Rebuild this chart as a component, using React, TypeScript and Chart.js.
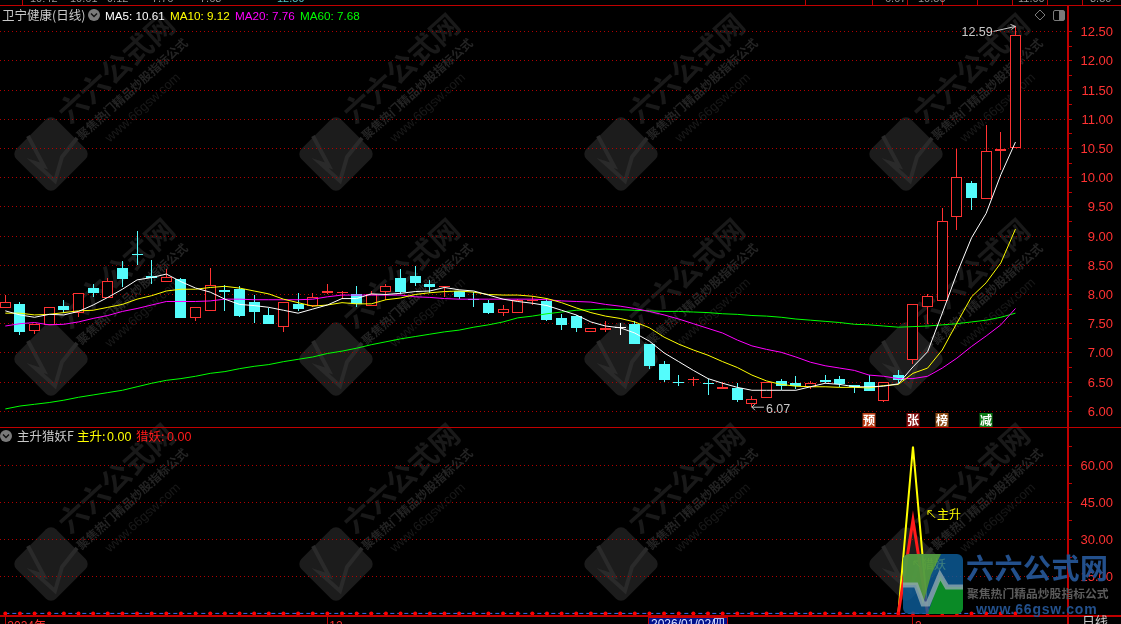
import React, { useEffect, useRef } from "react";
import { Chart, registerables } from "chart.js";

Chart.register(...registerables);

const opens = [7.77,7.84,7.38,7.47,7.80,7.68,8.11,7.94,8.45,8.69,8.31,8.21,8.27,7.59,7.72,8.08,8.09,7.87,7.65,7.44,7.84,7.80,8.03,8.03,8.01,7.81,8.05,8.28,8.32,8.18,8.12,8.06,7.93,7.85,7.68,7.68,7.88,7.89,7.59,7.63,7.36,7.40,7.44,7.49,7.15,6.81,6.51,6.53,6.49,6.38,6.40,6.13,6.23,6.52,6.48,6.41,6.54,6.55,6.45,6.50,6.18,6.62,6.88,7.79,7.89,9.33,9.91,9.63,10.45,10.50];
const closes = [7.87,7.35,7.49,7.78,7.73,8.02,8.03,8.23,8.27,8.67,8.29,8.30,7.60,7.78,8.16,8.05,7.63,7.70,7.50,7.87,7.75,7.95,8.06,8.05,7.83,8.00,8.14,8.04,8.20,8.13,8.14,7.96,7.91,7.68,7.76,7.91,7.91,7.56,7.48,7.43,7.43,7.43,7.44,7.15,6.78,6.54,6.49,6.56,6.47,6.42,6.19,6.21,6.51,6.43,6.43,6.48,6.50,6.46,6.42,6.35,6.51,6.54,7.83,7.97,9.25,10.01,9.65,10.46,10.49,12.44];
const highs = [7.99,7.87,7.49,7.78,7.91,8.02,8.18,8.28,8.57,9.09,8.59,8.44,8.28,7.78,8.45,8.16,8.15,7.99,7.77,7.87,8.02,8.02,8.18,8.06,8.15,8.06,8.18,8.44,8.49,8.25,8.14,8.06,8.05,7.91,7.82,7.93,7.97,7.92,7.66,7.65,7.43,7.55,7.51,7.55,7.15,6.86,6.62,6.58,6.56,6.51,6.48,6.26,6.51,6.55,6.60,6.52,6.62,6.60,6.45,6.62,6.51,6.71,7.83,8.01,9.48,10.49,9.94,10.90,10.78,12.59];
const lows = [7.77,7.31,7.32,7.47,7.68,7.62,7.96,7.94,8.12,8.51,8.18,8.21,7.59,7.55,7.72,7.72,7.61,7.52,7.50,7.36,7.72,7.79,8.01,7.92,7.79,7.81,7.91,8.00,8.15,8.02,7.95,7.92,7.79,7.67,7.63,7.68,7.82,7.55,7.39,7.36,7.36,7.36,7.31,7.15,6.72,6.51,6.43,6.43,6.28,6.38,6.16,6.07,6.23,6.36,6.38,6.38,6.49,6.41,6.32,6.35,6.16,6.49,6.81,7.49,7.88,9.10,9.45,9.63,10.14,10.50];

const ma5 = [7.72,7.65,7.61,7.66,7.65,7.71,7.82,7.95,8.09,8.25,8.29,8.35,8.22,8.11,8.04,7.92,7.83,7.81,7.78,7.73,7.68,7.75,7.82,7.93,7.93,8.01,8.00,8.02,8.05,8.06,8.12,8.08,8.06,7.99,7.92,7.88,7.85,7.81,7.73,7.65,7.53,7.46,7.43,7.34,7.20,7.00,6.85,6.70,6.56,6.48,6.41,6.36,6.36,6.36,6.36,6.42,6.48,6.46,6.42,6.42,6.43,6.47,6.76,7.02,7.68,8.36,8.97,9.39,10.05,10.61];
const ma10 = [7.68,7.68,7.65,7.66,7.69,7.72,7.73,7.78,7.83,7.92,7.98,8.06,8.09,8.09,8.12,8.14,8.11,8.06,8.01,7.92,7.86,7.80,7.82,7.86,7.84,7.84,7.91,7.94,8.00,8.03,8.05,8.06,8.04,8.00,7.99,7.99,7.97,7.93,7.86,7.77,7.69,7.63,7.59,7.53,7.43,7.27,7.15,7.05,6.96,6.85,6.75,6.62,6.52,6.46,6.43,6.42,6.42,6.41,6.41,6.40,6.44,6.46,6.65,6.74,7.05,7.51,7.96,8.20,8.54,9.12];
const ma20 = [7.46,7.50,7.52,7.48,7.49,7.53,7.59,7.64,7.71,7.76,7.82,7.88,7.88,7.88,7.89,7.92,7.92,7.91,7.91,7.91,7.91,7.92,7.96,7.99,7.99,7.99,7.99,7.99,7.96,7.95,7.93,7.92,7.92,7.92,7.92,7.92,7.92,7.91,7.89,7.88,7.87,7.83,7.80,7.76,7.71,7.65,7.58,7.50,7.42,7.34,7.22,7.12,7.06,7.01,6.93,6.84,6.78,6.74,6.70,6.62,6.60,6.56,6.56,6.60,6.74,6.91,7.11,7.29,7.48,7.76];
const ma60 = [6.04,6.09,6.12,6.15,6.19,6.24,6.28,6.32,6.36,6.42,6.48,6.53,6.56,6.60,6.65,6.68,6.73,6.77,6.80,6.85,6.89,6.93,6.99,7.03,7.08,7.14,7.19,7.24,7.28,7.32,7.36,7.39,7.44,7.48,7.53,7.60,7.63,7.67,7.70,7.73,7.74,7.75,7.74,7.73,7.72,7.71,7.71,7.70,7.69,7.67,7.66,7.64,7.63,7.61,7.58,7.56,7.54,7.52,7.49,7.48,7.46,7.44,7.45,7.46,7.48,7.50,7.53,7.56,7.61,7.68];

const signalSessions = [61, 62, 63];
const zhuSheng = [0, 67.6, 0];
const lieYao = [0, 37.9, 0];
const baseline = opens.map(() => 0);

const priceTicks = [6,6.25,6.5,6.75,7,7.25,7.5,7.75,8,8.25,8.5,8.75,9,9.25,9.5,9.75,10,10.25,10.5,10.75,11,11.25,11.5,11.75,12,12.25,12.5];
const indicatorTicks = [15,22.5,30,37.5,45,52.5,60,67.5];
const xTickSessions = [0, 22, 62];
const xTickLabels = ["2024年", "12", "2"];
const badgeSessions = [59, 62, 64, 67];
const badgeTexts = ["预", "张", "榜", "减"];

const RED = "#ff3232";
const CYAN = "#54fcfc";
const GRID = "#b00000";
const LINE = "#c00000";
const NUM = '"Liberation Sans"';
const CJK = '"Noto Sans CJK SC"';

const pts = (arr: number[]) => arr.map((y, x) => ({ x, y }));
const candleColor = (i: number) =>
  closes[i] > opens[i] ? RED : closes[i] < opens[i] ? CYAN : "#ffffff";

function tile(ctx: CanvasRenderingContext2D, cx: number, cy: number) {
  ctx.save();
  ctx.translate(cx, cy);
  ctx.save();
  ctx.rotate(Math.PI / 4);
  ctx.fillStyle = "#1c1c1c";
  ctx.beginPath();
  ctx.roundRect(-28, -28, 56, 56, 7);
  ctx.fill();
  ctx.restore();
  ctx.strokeStyle = "#2a2a2a";
  ctx.lineWidth = 4;
  ctx.lineJoin = "miter";
  ctx.beginPath();
  ([[-23,-18],[-7,12],[-16,9],[4,27],[11,3],[26,-16]] as number[][]).forEach(([a, b], i) =>
    i ? ctx.lineTo(a, b) : ctx.moveTo(a, b));
  ctx.stroke();

  const ang = (-42 * Math.PI) / 180;
  const put = (t: string, x: number, y: number, font: string, color: string) => {
    ctx.save();
    ctx.translate(x, y);
    ctx.rotate(ang);
    ctx.font = font;
    ctx.fillStyle = color;
    ctx.textAlign = "center";
    ctx.textBaseline = "middle";
    ctx.fillText(t, 0, 0);
    ctx.restore();
  };
  put("六六公式网", 65, -86, `bold 29px ${CJK}`, "#191919");
  put("聚焦热门精品炒股指标公式", 81, -65, `bold 12px ${CJK}`, "#242424");
  put("www.66gsw.com", 92, -46, `13px ${NUM}`, "#191919");
  ctx.restore();
}

function chromeIcon(ctx: CanvasRenderingContext2D, x: number, y: number) {
  ctx.fillStyle = "#7a7a7a";
  ctx.beginPath();
  ctx.arc(x, y, 6, 0, Math.PI * 2);
  ctx.fill();
  ctx.strokeStyle = "#111";
  ctx.lineWidth = 1.4;
  ctx.beginPath();
  ctx.moveTo(x - 3, y - 1.5);
  ctx.lineTo(x, y + 1.5);
  ctx.lineTo(x + 3, y - 1.5);
  ctx.stroke();
}

function text(ctx: CanvasRenderingContext2D, t: string, x: number, y: number, color: string, font: string) {
  ctx.font = font;
  ctx.fillStyle = color;
  ctx.textAlign = "left";
  ctx.textBaseline = "alphabetic";
  ctx.fillText(t, x, y + 4.5);
}

function logo(ctx: CanvasRenderingContext2D) {
  ctx.save();
  ctx.globalAlpha = 0.8;
  ctx.beginPath();
  ctx.roundRect(903, 554, 60, 60, 6);
  ctx.clip();
  ctx.fillStyle = "#0c5f9e";
  ctx.fillRect(903, 554, 60, 60);
  ctx.fillStyle = "#5fa52e";
  ctx.beginPath();
  ctx.moveTo(903, 554); ctx.lineTo(941, 554); ctx.lineTo(931, 575); ctx.lineTo(923, 604); ctx.lineTo(916, 585); ctx.lineTo(903, 585);
  ctx.closePath(); ctx.fill();
  ctx.fillStyle = "#0a9a10";
  ctx.beginPath();
  ctx.moveTo(963, 587); ctx.lineTo(947, 587); ctx.lineTo(940, 575); ctx.lineTo(928, 614); ctx.lineTo(963, 614);
  ctx.closePath(); ctx.fill();
  ctx.strokeStyle = "#90a8ae";
  ctx.lineWidth = 5;
  ctx.beginPath();
  ctx.moveTo(903, 585); ctx.lineTo(916, 585); ctx.lineTo(923, 604); ctx.lineTo(928, 604); ctx.lineTo(940, 575); ctx.lineTo(947, 587); ctx.lineTo(963, 587);
  ctx.stroke();
  ctx.restore();

  ctx.save();
  ctx.textAlign = "left";
  ctx.textBaseline = "middle";
  ctx.font = `bold 28px ${CJK}`;
  ctx.fillStyle = "#23508c";
  (ctx as any).letterSpacing = "0.5px";
  ctx.fillText("六六公式网", 966, 568);
  ctx.font = `bold 11.8px ${CJK}`;
  ctx.fillStyle = "#5c5c5c";
  (ctx as any).letterSpacing = "0px";
  ctx.fillText("聚焦热门精品炒股指标公式", 967, 594);
  ctx.font = `bold 14px ${NUM}`;
  ctx.fillStyle = "#23508c";
  (ctx as any).letterSpacing = "0.8px";
  ctx.fillText("www.66gsw.com", 976, 610);
  ctx.restore();
}

const snapBars = {
  id: "snapBars",
  beforeDatasetsDraw(chart: any) {
    chart.getSortedVisibleDatasetMetas().forEach((meta: any) => {
      if (meta.type !== "bar") return;
      meta.data.forEach((el: any) => {
        el.x = Math.round(el.x - 0.5) + 0.5;
        const a = Math.round(el.y);
        let b = Math.round(el.base);
        if (a === b) b = a + 1;
        el.y = a;
        el.base = b;
        el.height = b - a;
      });
    });
  },
};

const backdrop = {
  id: "backdrop",
  beforeDraw(chart: any) {
    const { ctx, width, height } = chart;
    ctx.save();
    ctx.fillStyle = "#000";
    ctx.fillRect(0, 0, width, height);
    ctx.beginPath();
    ctx.rect(0, 0, 1068, height);
    ctx.clip();
    [154, 359, 564].forEach((cy) => [51, 336, 621, 906].forEach((cx) => tile(ctx, cx, cy)));
    ctx.restore();
  },
};

const chrome = {
  id: "chrome",
  afterDraw(chart: any) {
    const { ctx, width, height } = chart;
    const xs = chart.scales.x;
    const yp = chart.scales.y;
    const yi = chart.scales.y2;
    const px = (i: number) => xs.getPixelForValue(i);
    ctx.save();

    // frame
    ctx.fillStyle = LINE;
    ctx.fillRect(0, 5, width, 1);
    ctx.fillRect(0, 427, width, 1);
    ctx.fillRect(0, 615, width, 2);
    ctx.fillRect(1067, 5, 2, height - 5);
    [22, 805, 872, 907, 942, 977, 1012, 1047, 1082].forEach((x) => ctx.fillRect(x, 0, 1, 5));
    ["10:42", "10.61", "9.12", "7.76", "7.68", "12.59", "6.07", "10.50", "11.00", "8.50"].forEach((t, i) => {
      ctx.font = `11px ${NUM}`;
      ctx.fillStyle = i === 5 ? "#54c8c8" : "#9a9a9a";
      ctx.textAlign = "left";
      ctx.textBaseline = "alphabetic";
      ctx.fillText(t, [30, 70, 107, 152, 200, 277, 885, 918, 1018, 1090][i], 2);
    });

    // headers
    text(ctx, "卫宁健康(日线)", 2, 15, "#c8c8c8", `12.5px ${CJK}`);
    chromeIcon(ctx, 94, 15);
    const maFont = `11.7px ${NUM}`;
    text(ctx, "MA5: 10.61", 105, 15, "#ffffff", maFont);
    text(ctx, "MA10: 9.12", 170, 15, "#ffff00", maFont);
    text(ctx, "MA20: 7.76", 235, 15, "#ff00ff", maFont);
    text(ctx, "MA60: 7.68", 300, 15, "#00ff00", maFont);
    chromeIcon(ctx, 6, 436);
    text(ctx, "主升猎妖F", 17, 436, "#c8c8c8", `12.5px ${CJK}`);
    text(ctx, "主升:", 77, 436, "#ffff00", `12.5px ${CJK}`);
    text(ctx, "0.00", 107, 436, "#ffff00", `12.5px ${NUM}`);
    text(ctx, "猎妖:", 136, 436, "#ff1a1a", `12.5px ${CJK}`);
    text(ctx, "0.00", 167, 436, "#ff1a1a", `12.5px ${NUM}`);

    // top-right buttons
    ctx.strokeStyle = "#7a7a7a";
    ctx.lineWidth = 1;
    ctx.beginPath();
    ctx.moveTo(1040, 10); ctx.lineTo(1045, 15); ctx.lineTo(1040, 20); ctx.lineTo(1035, 15); ctx.closePath();
    ctx.stroke();
    ctx.beginPath();
    ctx.roundRect(1053.5, 10.5, 11, 10, 1.5);
    ctx.stroke();
    ctx.fillStyle = "#7a7a7a";
    ctx.fillRect(1059, 11, 5, 9);

    // extreme value notes
    const hiY = yp.getPixelForValue(12.59);
    const hiX = px(69);
    text(ctx, "12.59", hiX - 54, hiY + 5, "#c8c8c8", `12.5px ${NUM}`);
    ctx.strokeStyle = "#c8c8c8";
    ctx.beginPath();
    ctx.moveTo(hiX - 22, hiY + 5); ctx.lineTo(hiX, hiY); ctx.lineTo(hiX - 5, hiY - 2);
    ctx.moveTo(hiX, hiY); ctx.lineTo(hiX - 4, hiY + 3);
    ctx.stroke();
    const loY = yp.getPixelForValue(6.07);
    const loX = px(51);
    text(ctx, "6.07", loX + 14, loY + 1, "#c8c8c8", `12.5px ${NUM}`);
    ctx.beginPath();
    ctx.moveTo(loX + 12, loY); ctx.lineTo(loX, loY); ctx.lineTo(loX + 3, loY - 3);
    ctx.moveTo(loX, loY); ctx.lineTo(loX + 3, loY + 3);
    ctx.stroke();

    // signal badges
    const badgeColors = ["#b83c14", "#7e0a0a", "#8c4a14", "#0a7a14"];
    badgeSessions.forEach((s, i) => {
      const x = Math.round(px(s)) - 6.5;
      ctx.fillStyle = badgeColors[i];
      ctx.fillRect(x, 413, 13, 14);
      ctx.font = `bold 12px ${CJK}`;
      ctx.fillStyle = "#ffffff";
      ctx.textAlign = "center";
      ctx.textBaseline = "middle";
      ctx.fillText(badgeTexts[i], x + 6.5, 420);
    });

    // indicator notes
    const zx = px(62);
    const noteY = yi.getPixelForValue(40);
    ctx.strokeStyle = "#ffff00";
    ctx.beginPath();
    ctx.moveTo(zx + 22, noteY + 3); ctx.lineTo(zx + 15, noteY - 4); ctx.moveTo(zx + 15, noteY - 4); ctx.lineTo(zx + 19, noteY - 4); ctx.moveTo(zx + 15, noteY - 4); ctx.lineTo(zx + 15, noteY);
    ctx.stroke();
    text(ctx, "主升", zx + 24, noteY, "#ffff00", `12px ${CJK}`);
    const noteY2 = yi.getPixelForValue(20);
    ctx.beginPath();
    ctx.moveTo(zx + 7, noteY2 + 3); ctx.lineTo(zx + 1, noteY2 - 3); ctx.moveTo(zx + 1, noteY2 - 3); ctx.lineTo(zx + 5, noteY2 - 3); ctx.moveTo(zx + 1, noteY2 - 3); ctx.lineTo(zx + 1, noteY2 + 1);
    ctx.stroke();
    text(ctx, "猎妖", zx + 9, noteY2, "#ffff00", `12px ${CJK}`);

    // cursor date box
    ctx.fillStyle = "#00108c";
    ctx.fillRect(648, 617, 80, 7);
    ctx.strokeStyle = LINE;
    ctx.strokeRect(648.5, 617.5, 79, 8);
    ctx.font = `12px ${NUM}`;
    ctx.fillStyle = "#d8e0ff";
    ctx.textAlign = "left";
    ctx.textBaseline = "top";
    ctx.fillText("2026/01/02/", 651, 619);
    ctx.font = `12px ${CJK}`;
    ctx.fillText("四", 713, 617);

    ctx.font = `13px ${CJK}`;
    ctx.fillStyle = "#c8c8c8";
    ctx.fillText("日线", 1082, 615);

    logo(ctx);
    ctx.restore();
  },
};

const axisLabelFont = { family: NUM, size: 13 };
const fitY = (s: any) => { s.width = 45; s.paddingTop = 0; s.paddingBottom = 0; };

export default function App() {
  const ref = useRef<HTMLCanvasElement | null>(null);
  useEffect(() => {
    const sessions = opens.map((_, i) => i);
    const chart = new Chart(ref.current as HTMLCanvasElement, {
      type: "bar",
      data: {
        datasets: [
          { type: "line", label: "MA5", yAxisID: "y", data: pts(ma5), borderColor: "#ffffff", borderWidth: 1, pointRadius: 0, tension: 0, order: 1 },
          { type: "line", label: "MA10", yAxisID: "y", data: pts(ma10), borderColor: "#ffff00", borderWidth: 1, pointRadius: 0, tension: 0, order: 2 },
          { type: "line", label: "MA20", yAxisID: "y", data: pts(ma20), borderColor: "#ff00ff", borderWidth: 1, pointRadius: 0, tension: 0, order: 3 },
          { type: "line", label: "MA60", yAxisID: "y", data: pts(ma60), borderColor: "#00ff00", borderWidth: 1, pointRadius: 0, tension: 0, order: 4 },
          {
            type: "bar", label: "body", yAxisID: "y", grouped: false, barThickness: 11, order: 5, inflateAmount: 0,
            data: sessions.map((i) => ({ x: i, y: [opens[i], closes[i]] })),
            backgroundColor: (c: any) => (closes[c.dataIndex] > opens[c.dataIndex] ? "#000000" : candleColor(c.dataIndex)),
            borderColor: (c: any) => candleColor(c.dataIndex),
            borderWidth: (c: any) => (closes[c.dataIndex] > opens[c.dataIndex] ? 1 : 0),
            borderSkipped: false,
          },
          {
            type: "bar", label: "wick", yAxisID: "y", grouped: false, barThickness: 1, order: 6, inflateAmount: 0,
            data: sessions.map((i) => ({ x: i, y: [lows[i], highs[i]] })),
            backgroundColor: (c: any) => candleColor(c.dataIndex),
            borderWidth: 0,
          },
          { type: "line", label: "猎妖", yAxisID: "y2", data: signalSessions.map((x, i) => ({ x, y: lieYao[i] })), borderColor: "#ff1a1a", borderWidth: 3, pointRadius: 0, tension: 0, order: 8 },
          { type: "line", label: "主升", yAxisID: "y2", data: signalSessions.map((x, i) => ({ x, y: zhuSheng[i] })), borderColor: "#ffff00", borderWidth: 2, pointRadius: 0, tension: 0, order: 9 },
          { type: "line", label: "zero", yAxisID: "y2", data: pts(baseline), borderColor: "#3c6cf0", borderWidth: 1, borderDash: [4, 3], pointRadius: 2, pointBackgroundColor: "#ff0000", pointBorderWidth: 0, tension: 0, order: 7 },
        ],
      } as any,
      options: {
        responsive: false,
        animation: false,
        events: [],
        devicePixelRatio: 1,
        layout: { autoPadding: false, padding: { top: 5, right: 8, left: 0, bottom: 0 } },
        plugins: { legend: { display: false }, tooltip: { enabled: false } },
        scales: {
          x: {
            type: "linear",
            min: -0.362,
            max: 72.59,
            offset: false,
            position: "bottom",
            grid: { offset: false, drawOnChartArea: false, tickLength: 8, tickColor: LINE, tickWidth: 1 },
            border: { display: false },
            afterFit: (s: any) => { s.height = 8; s.paddingLeft = 0; s.paddingRight = 0; s.paddingTop = 0; s.paddingBottom = 0; },
            afterBuildTicks: (s: any) => { s.ticks = xTickSessions.map((value) => ({ value })); },
            afterTickToLabelConversion: (s: any) => {
              s.ticks.forEach((t: any, i: number) => { t.label = xTickLabels[i]; });
            },
            ticks: { color: RED, font: { family: `${NUM}, ${CJK}`, size: 12 }, maxRotation: 0, autoSkip: false, align: "start", padding: -5, labelOffset: 2 },
          },
          y: {
            type: "linear",
            position: "right",
            stack: "panes",
            stackWeight: 422,
            min: 5.731,
            max: 12.957,
            afterFit: fitY,
            afterBuildTicks: (s: any) => { s.ticks = priceTicks.map((value) => ({ value })); },
            border: { display: false, dash: [1, 3] },
            grid: {
              color: (c: any) => (c.tick && c.tick.value % 0.5 === 0 ? GRID : "rgba(0,0,0,0)"),
              tickColor: LINE,
              tickLength: 4,
              lineWidth: 1,
            },
            ticks: {
              color: RED,
              font: axisLabelFont,
              autoSkip: false,
              crossAlign: "far",
              labelOffset: 1,
              callback: (v: any) => (Number(v) % 0.5 === 0 ? Number(v).toFixed(2) : ""),
            },
          },
          y2: {
            type: "linear",
            position: "right",
            stack: "panes",
            stackWeight: 189,
            min: -1.05,
            max: 75.57,
            afterFit: fitY,
            afterBuildTicks: (s: any) => { s.ticks = indicatorTicks.map((value) => ({ value })); },
            border: { display: false, dash: [1, 3] },
            grid: {
              color: (c: any) => (c.tick && c.tick.value % 15 === 0 ? GRID : "rgba(0,0,0,0)"),
              tickColor: LINE,
              tickLength: 4,
              lineWidth: 1,
            },
            ticks: {
              color: RED,
              font: axisLabelFont,
              autoSkip: false,
              crossAlign: "far",
              labelOffset: 1,
              callback: (v: any) => (Number(v) % 15 === 0 ? Number(v).toFixed(2) : ""),
            },
          },
        },
      } as any,
      plugins: [backdrop, snapBars, chrome],
    } as any);
    return () => chart.destroy();
  }, []);
  return (
    <div style={{ position: "fixed", left: 0, top: 0, width: 1121, height: 624, background: "#000", overflow: "hidden" }}>
      <canvas ref={ref} width={1121} height={624} style={{ display: "block", width: 1121, height: 624 }} />
    </div>
  );
}
